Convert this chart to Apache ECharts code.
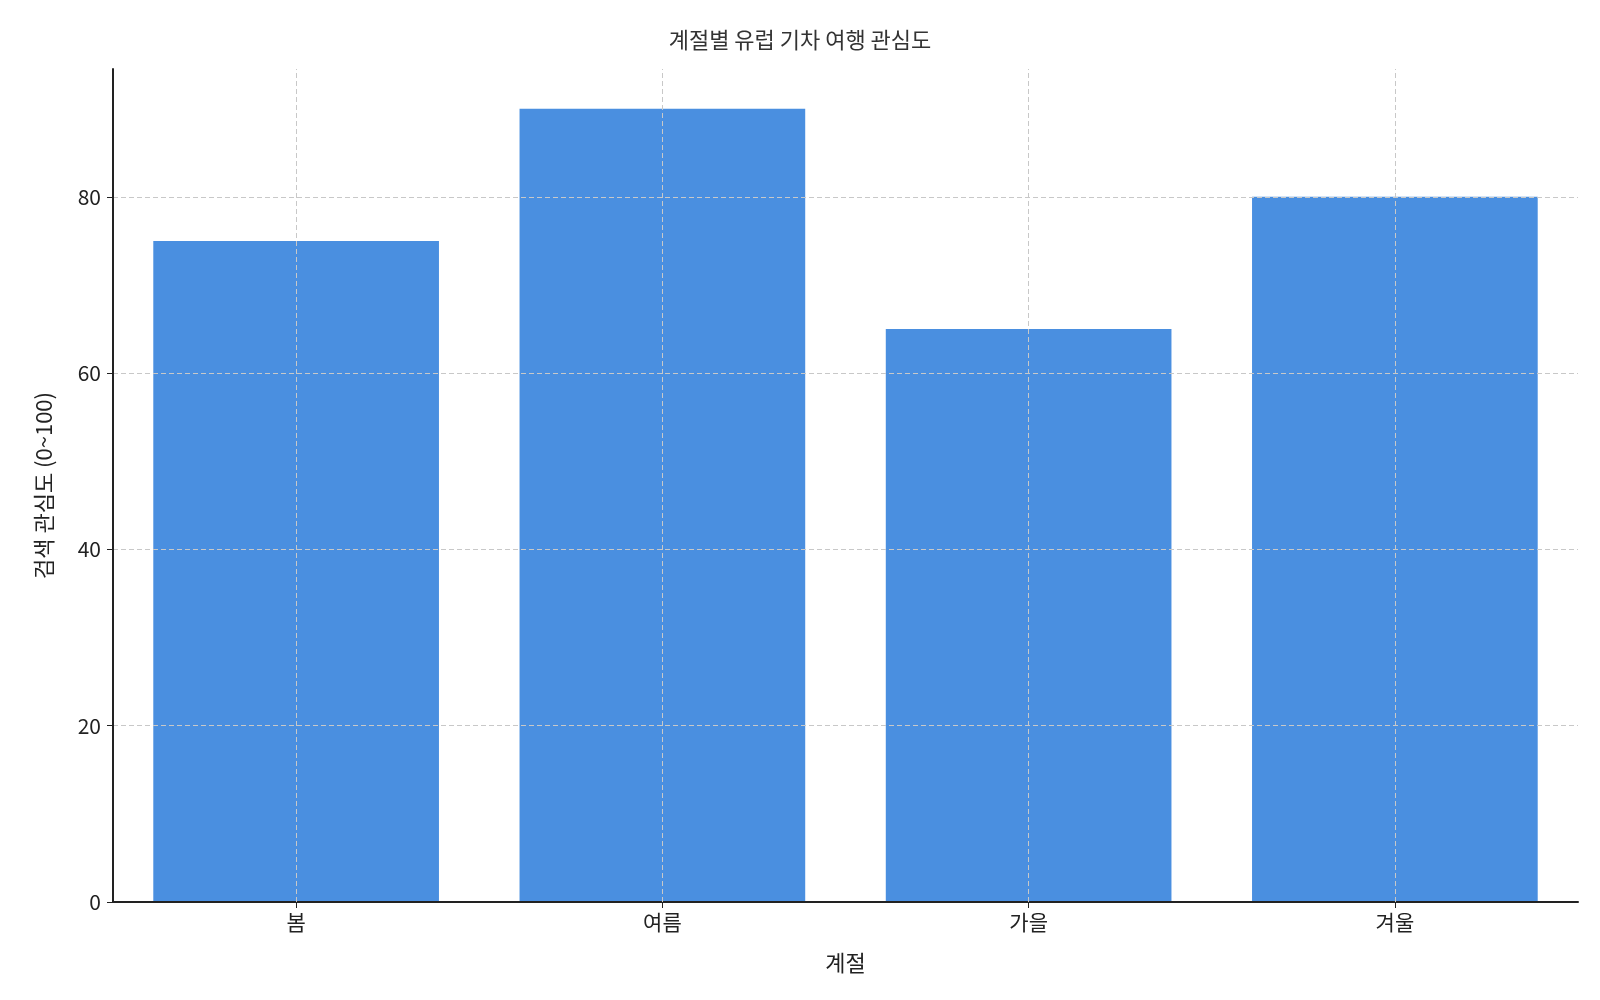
<!DOCTYPE html>
<html><head><meta charset="utf-8">
<script src="https://cdn.jsdelivr.net/npm/echarts@6/dist/echarts.min.js"></script>
<style>html,body{margin:0;background:#fff}#c{width:1600px;height:1000px}</style>
</head><body><div id="c"></div>
<script>
const categories = ['봄', '여름', '가을', '겨울'];
const values = [75, 90, 65, 80];
const yTicks = [0, 20, 40, 60, 80];
const font = '"Noto Sans CJK KR", "Noto Sans", sans-serif';
const chart = echarts.init(document.getElementById('c'));
const grid = {color:'#c8c8c8', type:[5,3], width:1};
chart.setOption({
  title:{text:'계절별 유럽 기차 여행 관심도', left:'center', top:24, textStyle:{fontFamily:font, fontSize:22, fontWeight:'normal', color:'#333'}},
  grid:{left:113, right:22, top:69, bottom:98},
  xAxis:{type:'category', data:categories, name:'계절', nameLocation:'middle', nameGap:50,
    nameTextStyle:{fontFamily:font, fontSize:22, color:'#222'},
    axisLine:{lineStyle:{color:'#222', width:2}}, axisTick:{show:true, alignWithLabel:true, length:6, lineStyle:{color:'#222'}},
    axisLabel:{fontFamily:font, fontSize:21, color:'#222', margin:10},
    splitLine:{show:false}},
  yAxis:{type:'value', min:0, max:94.5, interval:20, name:'검색 관심도 (0~100)', nameLocation:'middle', nameGap:58,
    nameTextStyle:{fontFamily:font, fontSize:22, color:'#222'},
    axisLine:{show:true, lineStyle:{color:'#222', width:2}}, axisTick:{show:true, length:6, lineStyle:{color:'#222'}},
    axisLabel:{fontFamily:font, fontSize:21, color:'#222', margin:12, showMaxLabel:false, formatter:v=>yTicks.includes(v)?String(v):''},
    splitLine:{show:true, showMaxLine:false, lineStyle:grid}},
  series:[{type:'bar', data:values, barWidth:'78%', itemStyle:{color:'#4a8fe0'}, z:-1,
    markLine:{silent:true, symbol:'none', label:{show:false}, lineStyle:grid, z:10,
      data:categories.map(c=>({xAxis:c}))}}]
});
</script></body></html>
